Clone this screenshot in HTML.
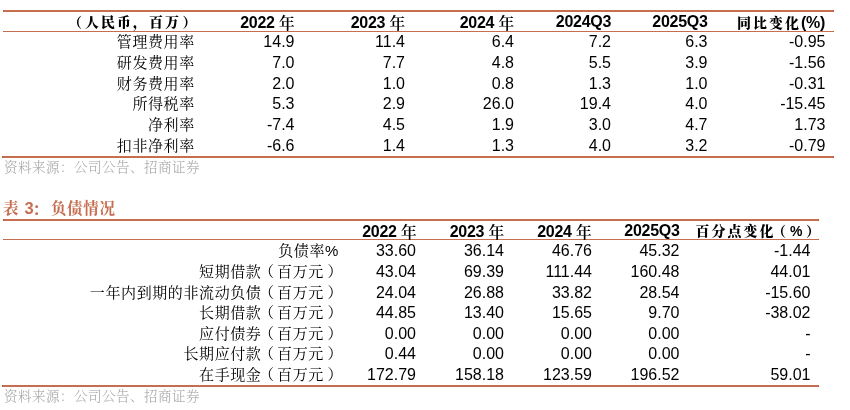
<!DOCTYPE html>
<html><head><meta charset="utf-8"><style>
*{margin:0;padding:0;box-sizing:border-box}
html,body{width:850px;height:410px;background:#fff;overflow:hidden}
body{position:relative;color:#000;will-change:transform}
div{position:absolute;white-space:nowrap;text-spacing-trim:space-all}
.ln{background:#C56E50}
.cap{width:1px;background:#BE5C3E}
.d{font-family:"Liberation Sans", sans-serif;font-size:16px;line-height:20px}
.hb{font-family:"Liberation Sans", sans-serif;font-weight:bold;font-size:16px;line-height:20px;letter-spacing:-0.3px}
.hy{font-family:"Noto Serif CJK SC", serif;font-weight:600;font-size:16px;position:relative;top:1px}
.hz{font-family:"Noto Serif CJK SC", serif;font-weight:900;font-size:14px;letter-spacing:2px}
.hc{font-family:"Liberation Sans", "Noto Serif CJK SC", serif;font-weight:900;font-size:14px;line-height:20px;letter-spacing:2px}
.lp{position:relative;left:-2.5px}
.rp{position:relative;left:3.5px}
.sh{position:relative}
.lc{font-family:"Liberation Sans", "Noto Serif CJK SC", serif;font-size:15px;line-height:20px;letter-spacing:0.6px;font-weight:400}
.src{font-family:"Liberation Sans", "Noto Serif CJK SC", serif;font-size:13.5px;line-height:17.5px;color:#a3a3a3;letter-spacing:0.5px;font-weight:300}
.ttl{font-family:"Liberation Sans", "Noto Serif CJK SC", serif;font-weight:700;font-size:15.5px;line-height:20px;color:#C56E50;letter-spacing:0.8px}
</style></head>
<body>
<div class="ln" style="left:3px;width:831px;top:10px;height:2px"></div>
<div class="cap" style="left:3px;top:10px;height:2px"></div>
<div class="cap" style="left:833px;top:10px;height:2px"></div>
<div class="ln" style="left:3px;width:831px;top:31px;height:1px"></div>
<div class="cap" style="left:3px;top:31px;height:1px"></div>
<div class="cap" style="left:833px;top:31px;height:1px"></div>
<div class="ln" style="left:2px;width:832px;top:156px;height:2px"></div>
<div class="cap" style="left:2px;top:156px;height:2px"></div>
<div class="cap" style="left:833px;top:156px;height:2px"></div>
<div class="ln" style="left:3px;width:816px;top:219px;height:2px"></div>
<div class="cap" style="left:3px;top:219px;height:2px"></div>
<div class="cap" style="left:818px;top:219px;height:2px"></div>
<div class="ln" style="left:3px;width:816px;top:239px;height:1px"></div>
<div class="cap" style="left:3px;top:239px;height:1px"></div>
<div class="cap" style="left:818px;top:239px;height:1px"></div>
<div class="ln" style="left:2px;width:817px;top:385px;height:2px"></div>
<div class="cap" style="left:2px;top:385px;height:2px"></div>
<div class="cap" style="left:818px;top:385px;height:2px"></div>
<div class="hc" style="right:653px;top:12px;"><span class="sh" style="left:-1px">（</span>人民币，百万<span class="sh" style="left:1.5px">）</span></div>
<div class="hb" style="right:555.5px;top:12px;">2022 <span class="hy">年</span></div>
<div class="hb" style="right:445px;top:12px;">2023 <span class="hy">年</span></div>
<div class="hb" style="right:336px;top:12px;">2024 <span class="hy">年</span></div>
<div class="hb" style="right:239px;top:12px;">2024Q3</div>
<div class="hb" style="right:142.5px;top:12px;">2025Q3</div>
<div class="hb" style="right:25px;top:12px;"><span class="hz">同比变化</span>(%)</div>
<div class="lc" style="right:655.2px;top:32px;">管理费用率</div>
<div class="d" style="right:555.5px;top:32px;">14.9</div>
<div class="d" style="right:445px;top:32px;">11.4</div>
<div class="d" style="right:336px;top:32px;">6.4</div>
<div class="d" style="right:239px;top:32px;">7.2</div>
<div class="d" style="right:142.5px;top:32px;">6.3</div>
<div class="d" style="right:24.5px;top:32px;">-0.95</div>
<div class="lc" style="right:655.2px;top:52.8px;">研发费用率</div>
<div class="d" style="right:555.5px;top:52.8px;">7.0</div>
<div class="d" style="right:445px;top:52.8px;">7.7</div>
<div class="d" style="right:336px;top:52.8px;">4.8</div>
<div class="d" style="right:239px;top:52.8px;">5.5</div>
<div class="d" style="right:142.5px;top:52.8px;">3.9</div>
<div class="d" style="right:24.5px;top:52.8px;">-1.56</div>
<div class="lc" style="right:655.2px;top:73.6px;">财务费用率</div>
<div class="d" style="right:555.5px;top:73.6px;">2.0</div>
<div class="d" style="right:445px;top:73.6px;">1.0</div>
<div class="d" style="right:336px;top:73.6px;">0.8</div>
<div class="d" style="right:239px;top:73.6px;">1.3</div>
<div class="d" style="right:142.5px;top:73.6px;">1.0</div>
<div class="d" style="right:24.5px;top:73.6px;">-0.31</div>
<div class="lc" style="right:655.2px;top:94.4px;">所得税率</div>
<div class="d" style="right:555.5px;top:94.4px;">5.3</div>
<div class="d" style="right:445px;top:94.4px;">2.9</div>
<div class="d" style="right:336px;top:94.4px;">26.0</div>
<div class="d" style="right:239px;top:94.4px;">19.4</div>
<div class="d" style="right:142.5px;top:94.4px;">4.0</div>
<div class="d" style="right:24.5px;top:94.4px;">-15.45</div>
<div class="lc" style="right:655.2px;top:115.2px;">净利率</div>
<div class="d" style="right:555.5px;top:115.2px;">-7.4</div>
<div class="d" style="right:445px;top:115.2px;">4.5</div>
<div class="d" style="right:336px;top:115.2px;">1.9</div>
<div class="d" style="right:239px;top:115.2px;">3.0</div>
<div class="d" style="right:142.5px;top:115.2px;">4.7</div>
<div class="d" style="right:24.5px;top:115.2px;">1.73</div>
<div class="lc" style="right:655.2px;top:136px;">扣非净利率</div>
<div class="d" style="right:555.5px;top:136px;">-6.6</div>
<div class="d" style="right:445px;top:136px;">1.4</div>
<div class="d" style="right:336px;top:136px;">1.3</div>
<div class="d" style="right:239px;top:136px;">4.0</div>
<div class="d" style="right:142.5px;top:136px;">3.2</div>
<div class="d" style="right:24.5px;top:136px;">-0.79</div>
<div class="src" style="left:4px;top:159px;">资料来源：公司公告、招商证券</div>
<div class="ttl" style="left:3px;top:197.8px;">表 <span style="font-size:16.5px">3</span><span class="sh" style="left:-2px;top:1.5px">：</span>负债情况</div>
<div class="hb" style="right:433.5px;top:221px;">2022 <span class="hy">年</span></div>
<div class="hb" style="right:346px;top:221px;">2023 <span class="hy">年</span></div>
<div class="hb" style="right:258.5px;top:221px;">2024 <span class="hy">年</span></div>
<div class="hb" style="right:170.5px;top:221px;">2025Q3</div>
<div class="hc" style="right:28px;top:221px;">百分点变化<span class="sh" style="left:-3.5px">（</span><span class="sh" style="left:-1.5px">%</span>）</div>
<div class="lc" style="right:511px;top:241.3px;">负债率%</div>
<div class="d" style="right:434px;top:241.3px;">33.60</div>
<div class="d" style="right:346px;top:241.3px;">36.14</div>
<div class="d" style="right:258px;top:241.3px;">46.76</div>
<div class="d" style="right:170.5px;top:241.3px;">45.32</div>
<div class="d" style="right:39.5px;top:241.3px;">-1.44</div>
<div class="lc" style="right:510.5px;top:261.9px;">短期借款<span class="lp">（</span>百万元<span class="rp">）</span></div>
<div class="d" style="right:434px;top:261.9px;">43.04</div>
<div class="d" style="right:346px;top:261.9px;">69.39</div>
<div class="d" style="right:258px;top:261.9px;">111.44</div>
<div class="d" style="right:170.5px;top:261.9px;">160.48</div>
<div class="d" style="right:39.5px;top:261.9px;">44.01</div>
<div class="lc" style="right:510.5px;top:282.5px;">一年内到期的非流动负债<span class="lp">（</span>百万元<span class="rp">）</span></div>
<div class="d" style="right:434px;top:282.5px;">24.04</div>
<div class="d" style="right:346px;top:282.5px;">26.88</div>
<div class="d" style="right:258px;top:282.5px;">33.82</div>
<div class="d" style="right:170.5px;top:282.5px;">28.54</div>
<div class="d" style="right:39.5px;top:282.5px;">-15.60</div>
<div class="lc" style="right:510.5px;top:303.1px;">长期借款<span class="lp">（</span>百万元<span class="rp">）</span></div>
<div class="d" style="right:434px;top:303.1px;">44.85</div>
<div class="d" style="right:346px;top:303.1px;">13.40</div>
<div class="d" style="right:258px;top:303.1px;">15.65</div>
<div class="d" style="right:170.5px;top:303.1px;">9.70</div>
<div class="d" style="right:39.5px;top:303.1px;">-38.02</div>
<div class="lc" style="right:510.5px;top:323.7px;">应付债券<span class="lp">（</span>百万元<span class="rp">）</span></div>
<div class="d" style="right:434px;top:323.7px;">0.00</div>
<div class="d" style="right:346px;top:323.7px;">0.00</div>
<div class="d" style="right:258px;top:323.7px;">0.00</div>
<div class="d" style="right:170.5px;top:323.7px;">0.00</div>
<div class="d" style="right:39.5px;top:323.7px;">-</div>
<div class="lc" style="right:510.5px;top:344.3px;">长期应付款<span class="lp">（</span>百万元<span class="rp">）</span></div>
<div class="d" style="right:434px;top:344.3px;">0.44</div>
<div class="d" style="right:346px;top:344.3px;">0.00</div>
<div class="d" style="right:258px;top:344.3px;">0.00</div>
<div class="d" style="right:170.5px;top:344.3px;">0.00</div>
<div class="d" style="right:39.5px;top:344.3px;">-</div>
<div class="lc" style="right:510.5px;top:364.9px;">在手现金<span class="lp">（</span>百万元<span class="rp">）</span></div>
<div class="d" style="right:434px;top:364.9px;">172.79</div>
<div class="d" style="right:346px;top:364.9px;">158.18</div>
<div class="d" style="right:258px;top:364.9px;">123.59</div>
<div class="d" style="right:170.5px;top:364.9px;">196.52</div>
<div class="d" style="right:39.5px;top:364.9px;">59.01</div>
<div class="src" style="left:4px;top:388px;">资料来源：公司公告、招商证券</div>
</body></html>
